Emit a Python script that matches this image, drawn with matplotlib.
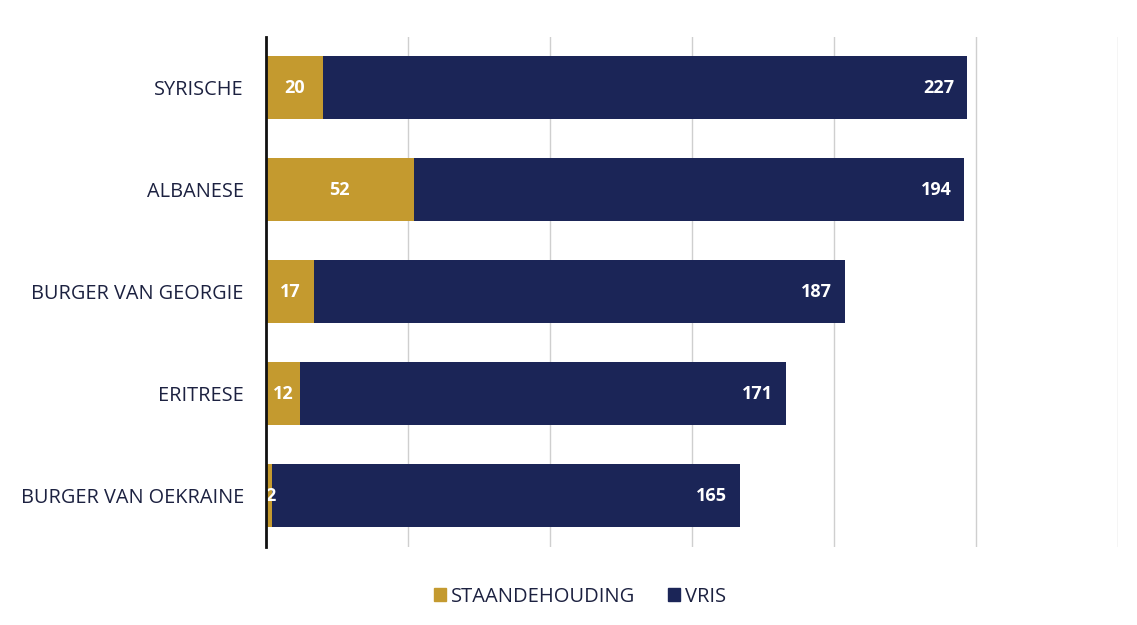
import matplotlib
matplotlib.use("Agg")
import matplotlib.pyplot as plt
from matplotlib.patches import Patch

categories = ["SYRISCHE", "ALBANESE", "BURGER VAN GEORGIE", "ERITRESE", "BURGER VAN OEKRAINE"]
staandehouding = [20, 52, 17, 12, 2]
vris = [227, 194, 187, 171, 165]
series_names = ["STAANDEHOUDING", "VRIS"]

gold = "#C49A2F"
navy = "#1B2557"
textc = "#1C2140"

plt.rcParams['font.family'] = ['Open Sans', 'DejaVu Sans']

fig = plt.figure(figsize=(11.37, 6.25), dpi=100)
ax = fig.add_axes([0.234, 0.125, 0.749, 0.816])

y = list(range(len(categories)))
h = 0.62
ax.barh(y, staandehouding, height=h, color=gold, zorder=3)
ax.barh(y, vris, left=staandehouding, height=h, color=navy, zorder=3)

for i in y:
    s = staandehouding[i]
    v = vris[i]
    ax.text(s / 2 if s > 4 else 1.5, i, str(s), ha="center", va="center", color="white",
            fontsize=13, fontweight="bold", zorder=4)
    ax.text(s + v - 4.5, i, str(v), ha="right", va="center", color="white",
            fontsize=13, fontweight="bold", zorder=4)

ax.set_xlim(0, 300)
ax.set_ylim(len(categories) - 0.5, -0.5)
ax.set_xticks([50, 100, 150, 200, 250, 300])
ax.set_xticklabels([])
ax.tick_params(axis="x", length=0)
ax.tick_params(axis="y", length=0, pad=16)
ax.set_yticks(y)
ax.set_yticklabels(categories, fontsize=14.3, color=textc, fontweight="medium")
ax.grid(axis="x", color="#CFCFCF", linewidth=1, zorder=0)
for sp in ["top", "right", "bottom"]:
    ax.spines[sp].set_visible(False)
ax.spines["left"].set_linewidth(2)
ax.spines["left"].set_color("#111111")
ax.spines["left"].set_zorder(5)

handles = [Patch(color=gold), Patch(color=navy)]
fig.legend(handles, series_names, loc="center", bbox_to_anchor=(0.51, 0.045),
           ncol=2, frameon=False, fontsize=14.5, handlelength=0.6, handleheight=0.6,
           handletextpad=0.25, columnspacing=1.6, labelcolor=textc)

fig.savefig("out.png", dpi=100, facecolor="white")
